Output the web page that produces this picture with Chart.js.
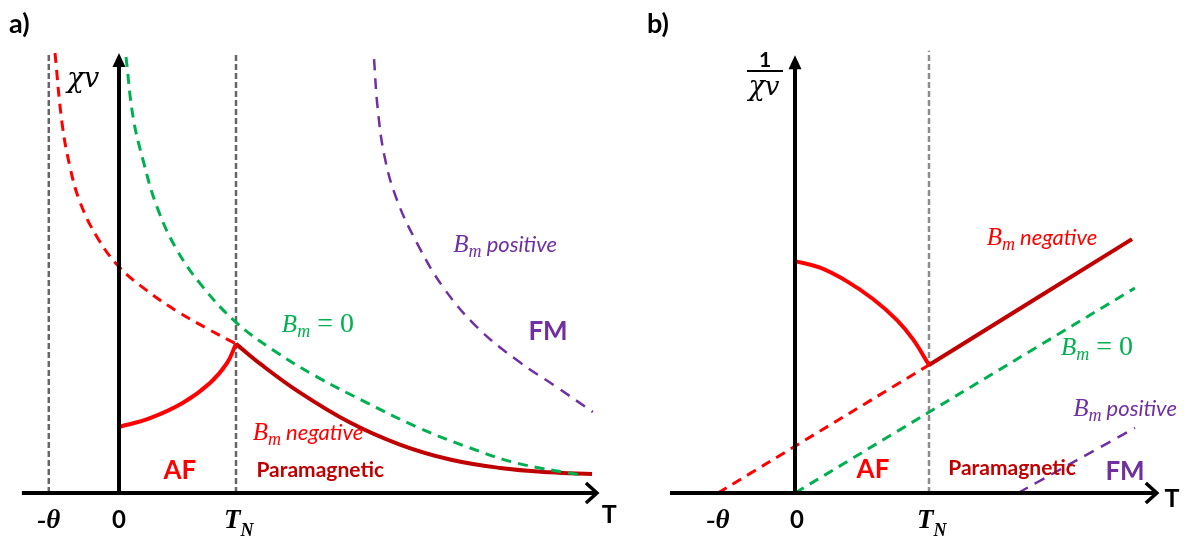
<!DOCTYPE html>
<html>
<head>
<meta charset="utf-8">
<script src="https://cdn.jsdelivr.net/npm/chart.js@4.4.1/dist/chart.umd.min.js"></script>
<style>
  html, body { margin: 0; padding: 0; background: #fff; }
  #wrap { position: relative; width: 1189px; height: 538px; }
  #chartA { position: absolute; left: 0; top: 0; }
  #chartB { position: absolute; left: 620px; top: 0; }
</style>
</head>
<body>
<div id="wrap">
  <canvas id="chartA" width="620" height="538"></canvas>
  <canvas id="chartB" width="569" height="538"></canvas>
</div>
<script>
// ---- panel a: chi vs T ----
const thetaA = -0.6;
const tnA = 1.0;

// Curie-Weiss branch for B_m negative (dashed, ends at T_N)
const negDashX = [-0.547, -0.487, -0.419, -0.333, -0.188, 0, 0.239, 0.496, 0.752, 1.0];
const negDashY = [10.0, 8.41, 7.41, 6.61, 5.82, 5.14, 4.60, 4.13, 3.74, 3.39];
// B_m = 0 (Curie law)
const zeroX = [0.06, 0.12, 0.205, 0.325, 0.496, 0.718, 1.0, 1.316, 1.692, 2.12, 2.547, 2.974, 3.40, 3.94];
const zeroY = [9.91, 8.55, 7.57, 6.5, 5.52, 4.68, 3.88, 3.25, 2.64, 2.05, 1.5, 1.05, 0.68, 0.41];
// AF region below T_N
const afX = [0, 0.265, 0.547, 0.778, 0.923, 1.0];
const afY = [1.5, 1.70, 2.05, 2.5, 2.95, 3.39];
// paramagnetic region above T_N
const paraX = [1.0, 1.205, 1.547, 1.974, 2.4, 2.829, 3.256, 3.684, 4.043];
const paraY = [3.39, 2.94, 2.28, 1.60, 1.10, 0.76, 0.57, 0.47, 0.43];
// B_m positive (FM)
const posX = [2.18, 2.21, 2.27, 2.376, 2.547, 2.77, 3.06, 3.40, 3.74, 4.05];
const posY = [9.86, 8.77, 7.64, 6.66, 5.68, 4.68, 3.77, 3.02, 2.41, 1.84];

// ---- panel b: 1/chi vs T ----
const thetaB = -0.575;
const tnB = 1.0;
const invNegDashX = [thetaB, 1.0];
const invNegDashY = [0, 2.91];
const invZeroX = [0, 2.537];
const invZeroY = [0, 4.66];
const invAfX = [0, 0.187, 0.388, 0.582, 0.761, 0.881, 1.0];
const invAfY = [5.27, 5.12, 4.81, 4.41, 3.93, 3.49, 2.91];
const invParaX = [1.0, 2.515];
const invParaY = [2.91, 5.77];
const invPosX = [1.664, 2.537];
const invPosY = [0, 1.48];

// tick labels on the T axis
const tickText = ['-θ', '0', 'T'];
const tickValsA = [thetaA, 0, tnA];
const tickValsB = [thetaB, 0.015, tnB];

const RED = '#ff0000', DARKRED = '#c00000', GREEN = '#00b050', PURPLE = '#7030a0';
const SERIF = '"Liberation Serif"';
const MATH = '"DejaVu Serif"';
const SANS = 'Lato';

function pts(xs, ys) {
  return xs.map((x, i) => ({ x: x, y: ys[i] }));
}

function curve(xs, ys, color, width, dash) {
  return {
    data: pts(xs, ys),
    borderColor: color,
    borderWidth: width,
    borderDash: dash || [],
    showLine: true,
    pointRadius: 0,
    tension: 0.4,
    borderJoinStyle: 'round',
    clip: false,
    fill: false
  };
}

// draw a run of text pieces (for subscripts), parts = [text, font, dy]
function rich(ctx, parts, x, y, align) {
  let w = 0;
  parts.forEach(p => { ctx.font = p[1]; w += ctx.measureText(p[0]).width; });
  let cx = align === 'left' ? x : x - w / 2;
  ctx.textAlign = 'left';
  ctx.textBaseline = 'alphabetic';
  parts.forEach(p => {
    ctx.font = p[1];
    ctx.fillText(p[0], cx, y + (p[2] || 0));
    cx += ctx.measureText(p[0]).width;
  });
}

function bm(rest, restFont) {
  return [['B', 'italic 25px ' + SERIF], ['m', 'italic 18px ' + SERIF, 5], [rest, restFont]];
}

const WORD = 'italic 22px ' + SANS;
const EQ0 = '28px ' + SERIF;

function vline(ctx, px, y0, y1, color) {
  ctx.save();
  ctx.strokeStyle = color;
  ctx.lineWidth = 2.5;
  ctx.setLineDash([6, 3]);
  ctx.beginPath();
  ctx.moveTo(px, y0);
  ctx.lineTo(px, y1);
  ctx.stroke();
  ctx.restore();
}

function axes(ctx, x0, x1, y0, xAt, yTop) {
  ctx.save();
  ctx.strokeStyle = '#000';
  ctx.fillStyle = '#000';
  ctx.lineWidth = 4;
  ctx.setLineDash([]);
  // T axis with open arrow head
  ctx.beginPath();
  ctx.moveTo(x0, y0);
  ctx.lineTo(x1 - 2, y0);
  ctx.stroke();
  ctx.lineWidth = 3.5;
  ctx.lineJoin = 'miter';
  ctx.beginPath();
  ctx.moveTo(x1 - 11, y0 - 10);
  ctx.lineTo(x1, y0);
  ctx.lineTo(x1 - 11, y0 + 10);
  ctx.stroke();
  // vertical axis with filled arrow head
  ctx.lineWidth = 4;
  ctx.beginPath();
  ctx.moveTo(xAt, y0 + 2);
  ctx.lineTo(xAt, yTop + 10);
  ctx.stroke();
  ctx.beginPath();
  ctx.moveTo(xAt, yTop);
  ctx.lineTo(xAt - 6.5, yTop + 14);
  ctx.lineTo(xAt + 6.5, yTop + 14);
  ctx.closePath();
  ctx.fill();
  ctx.restore();
}

function ticks(ctx, xs, ys, vals) {
  const by = ys.getPixelForValue(-0.795);
  ctx.fillStyle = '#000';
  rich(ctx, [[tickText[0], 'bold italic 27px ' + SERIF]], xs.getPixelForValue(vals[0]), by, 'center');
  rich(ctx, [[tickText[1], 'bold 24px ' + SANS]], xs.getPixelForValue(vals[1]), by, 'center');
  rich(ctx, [[tickText[2], 'bold italic 27px ' + SERIF], ['N', 'bold italic 18px ' + SERIF, 8]],
    xs.getPixelForValue(vals[2]) - 12, by, 'left');
}

const panelA = {
  id: 'panelA',
  beforeDatasetsDraw(chart) {
    const { ctx, scales: { x, y } } = chart;
    vline(ctx, x.getPixelForValue(thetaA), y.getPixelForValue(0), y.getPixelForValue(10.0), '#666');
    vline(ctx, x.getPixelForValue(tnA), y.getPixelForValue(0), y.getPixelForValue(10.0), '#666');
  },
  afterDatasetsDraw(chart) {
    const { ctx, scales: { x, y } } = chart;
    axes(ctx, x.getPixelForValue(-0.83), x.getPixelForValue(4.085), y.getPixelForValue(0),
      x.getPixelForValue(0), y.getPixelForValue(10.0));
    ticks(ctx, x, y, tickValsA);
    ctx.fillStyle = '#000';
    rich(ctx, [['a)', 'bold 27px ' + SANS]], 9, 33, 'left');
    rich(ctx, [['T', 'bold 25px ' + SANS]], x.getPixelForValue(4.19), y.getPixelForValue(-0.68), 'center');
    rich(ctx, [['χ', 'italic 28px ' + MATH], ['v', 'italic 27px ' + MATH]],
      x.getPixelForValue(-0.444), y.getPixelForValue(9.22), 'left');

    ctx.fillStyle = PURPLE;
    rich(ctx, bm(' positive', WORD), x.getPixelForValue(3.30), y.getPixelForValue(5.48), 'center');
    rich(ctx, [['FM', 'bold 26px ' + SANS]], x.getPixelForValue(3.667), y.getPixelForValue(3.48), 'center');
    ctx.fillStyle = GREEN;
    rich(ctx, bm(' = 0', EQ0), x.getPixelForValue(1.70), y.getPixelForValue(3.66), 'center');
    ctx.fillStyle = RED;
    rich(ctx, bm(' negative', WORD), x.getPixelForValue(1.615), y.getPixelForValue(1.2), 'center');
    rich(ctx, [['AF', 'bold 26px ' + SANS]], x.getPixelForValue(0.52), y.getPixelForValue(0.32), 'center');
    ctx.fillStyle = DARKRED;
    rich(ctx, [['Paramagnetic', 'bold 21px ' + SANS]], x.getPixelForValue(1.72), y.getPixelForValue(0.36), 'center');
  }
};

const panelB = {
  id: 'panelB',
  beforeDatasetsDraw(chart) {
    const { ctx, scales: { x, y } } = chart;
    vline(ctx, x.getPixelForValue(tnB), y.getPixelForValue(0), y.getPixelForValue(10.05), '#8c8c8c');
  },
  afterDatasetsDraw(chart) {
    const { ctx, scales: { x, y } } = chart;
    const yAxisPx = x.getPixelForValue(0);
    axes(ctx, x.getPixelForValue(-0.933), x.getPixelForValue(2.70), y.getPixelForValue(0),
      yAxisPx, y.getPixelForValue(9.95));
    ticks(ctx, x, y, tickValsB);
    ctx.fillStyle = '#000';
    rich(ctx, [['b)', 'bold 27px ' + SANS]], 27, 33, 'left');
    rich(ctx, [['T', 'bold 25px ' + SANS]], x.getPixelForValue(2.813), y.getPixelForValue(-0.32), 'center');
    // 1 / chi_v label next to the vertical axis
    rich(ctx, [['1', 'bold 21px ' + SANS]], yAxisPx - 30, 67, 'center');
    ctx.fillRect(yAxisPx - 48, 70, 36, 2);
    rich(ctx, [['χ', 'italic 27px ' + MATH], ['v', 'italic 26px ' + MATH]], yAxisPx - 31, 95, 'center');

    ctx.fillStyle = RED;
    rich(ctx, bm(' negative', WORD), x.getPixelForValue(1.843), y.getPixelForValue(5.64), 'center');
    rich(ctx, [['AF', 'bold 26px ' + SANS]], x.getPixelForValue(0.582), y.getPixelForValue(0.34), 'center');
    ctx.fillStyle = GREEN;
    rich(ctx, bm(' = 0', EQ0), x.getPixelForValue(2.254), y.getPixelForValue(3.14), 'center');
    ctx.fillStyle = PURPLE;
    rich(ctx, bm(' positive', WORD), x.getPixelForValue(2.463), y.getPixelForValue(1.75), 'center');
    rich(ctx, [['FM', 'bold 26px ' + SANS]], x.getPixelForValue(2.463), y.getPixelForValue(0.3), 'center');
    ctx.fillStyle = DARKRED;
    rich(ctx, [['Paramagnetic', 'bold 21px ' + SANS]], x.getPixelForValue(1.62), y.getPixelForValue(0.41), 'center');
  }
};

function makeChart(id, xMin, xMax, padding, datasets, plugin) {
  return new Chart(document.getElementById(id), {
    type: 'scatter',
    data: { datasets: datasets },
    options: {
      responsive: false,
      animation: false,
      devicePixelRatio: 1,
      events: [],
      layout: { padding: padding },
      scales: {
        x: { type: 'linear', min: xMin, max: xMax, display: false },
        y: { type: 'linear', min: -1, max: 10.5, display: false }
      },
      plugins: { legend: { display: false }, tooltip: { enabled: false } }
    },
    plugins: [plugin]
  });
}

makeChart('chartA', -1, 4.2, { left: 2, right: 9.6, top: 31, bottom: 1 }, [
  curve(negDashX, negDashY, RED, 3, [10, 7]),
  curve(zeroX, zeroY, GREEN, 3, [10, 7]),
  curve(posX, posY, PURPLE, 2.5, [11, 8]),
  curve(afX, afY, RED, 4),
  curve(paraX, paraY, DARKRED, 4)
], panelA);

makeChart('chartB', -1.25, 2.85, { left: 7.5, right: 12.1, top: 31, bottom: 1 }, [
  curve(invNegDashX, invNegDashY, RED, 3, [10, 7]),
  curve(invZeroX, invZeroY, GREEN, 3, [10, 7]),
  curve(invPosX, invPosY, PURPLE, 2.5, [11, 8]),
  curve(invAfX, invAfY, RED, 4),
  curve(invParaX, invParaY, DARKRED, 4)
], panelB);
</script>
</body>
</html>
